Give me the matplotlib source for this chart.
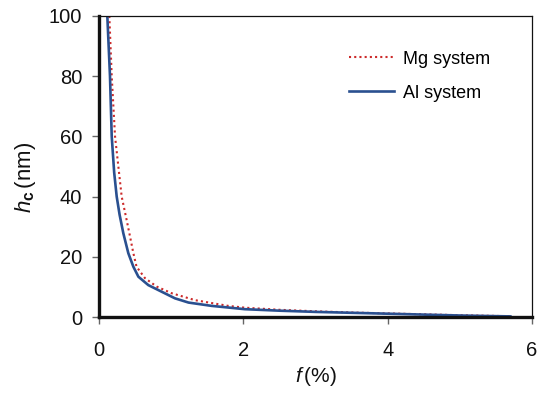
import matplotlib
matplotlib.use("Agg")
import matplotlib.pyplot as plt

plt.rcParams['font.family'] = ['Liberation Sans', 'DejaVu Sans']
plt.rcParams['mathtext.fontset'] = 'custom'
plt.rcParams['mathtext.rm'] = 'Liberation Sans'
plt.rcParams['mathtext.it'] = 'Liberation Sans:italic'
plt.rcParams['mathtext.bf'] = 'Liberation Sans:bold'

# Data
mg_f = [0.143, 0.176, 0.222, 0.314, 0.383, 0.43, 0.476, 0.52, 0.637, 0.80, 1.007, 1.33, 1.79, 2.02, 2.5, 3.0, 3.5, 4.0, 4.5, 5.0, 5.72]
mg_h = [100, 80, 60, 40, 32.2, 26.7, 21.2, 16.7, 12.9, 10.1, 7.9, 5.6, 3.7, 3.1, 2.4, 1.9, 1.5, 1.2, 0.9, 0.6, 0.25]
al_f = [0.115, 0.152, 0.176, 0.21, 0.245, 0.285, 0.337, 0.406, 0.476, 0.545, 0.683, 0.868, 1.053, 1.24, 1.56, 2.02, 2.5, 3.0, 3.5, 4.0, 4.5, 5.0, 5.7]
al_h = [100, 80, 60, 48, 40, 34, 27.8, 21.2, 16.7, 13.4, 10.6, 8.4, 6.2, 4.8, 3.7, 2.6, 2.1, 1.7, 1.4, 1.1, 0.8, 0.5, 0.2]
x_ticks = [0, 2, 4, 6]
y_ticks = [0, 20, 40, 60, 80, 100]

fig = plt.figure(figsize=(5.42, 3.98), dpi=100)
ax = fig.add_axes([0.1827, 0.2035, 0.7988, 0.7563])

ax.plot(mg_f, mg_h, color='#cc2a2a', linestyle=(0, (1, 1.5)), linewidth=1.5, label='Mg system')
ax.plot(al_f, al_h, color='#2a5090', linestyle='-', linewidth=1.9, label='Al system',
        solid_joinstyle='round')

ax.set_xlim(0, 6)
ax.set_ylim(0, 100)
ax.set_xticks(x_ticks)
ax.set_yticks(y_ticks)

for s in ['left', 'bottom']:
    ax.spines[s].set_linewidth(2.4)
    ax.spines[s].set_color('#111111')
for s in ['top', 'right']:
    ax.spines[s].set_linewidth(0.9)
    ax.spines[s].set_color('#111111')

ax.tick_params(axis='both', direction='out', length=5, width=1, color='#666666',
               labelcolor='#111111')
ax.tick_params(axis='y', labelsize=14.5, pad=7)
ax.tick_params(axis='x', labelsize=14.5, pad=12)

ax.set_xlabel('$f\\,$(%)', fontsize=15, labelpad=4, color='#111111')
ax.set_ylabel(r'$h_\mathbf{c}\,$(nm)', fontsize=16, color='#111111')
ax.yaxis.set_label_coords(-0.141, 0.465)

leg = ax.legend(loc='upper left', bbox_to_anchor=(0.578, 0.885), frameon=False, fontsize=13,
                handlelength=2.5, handletextpad=0.5, labelspacing=0.95, borderpad=0,
                borderaxespad=0)

fig.savefig('out.png', dpi=100)
